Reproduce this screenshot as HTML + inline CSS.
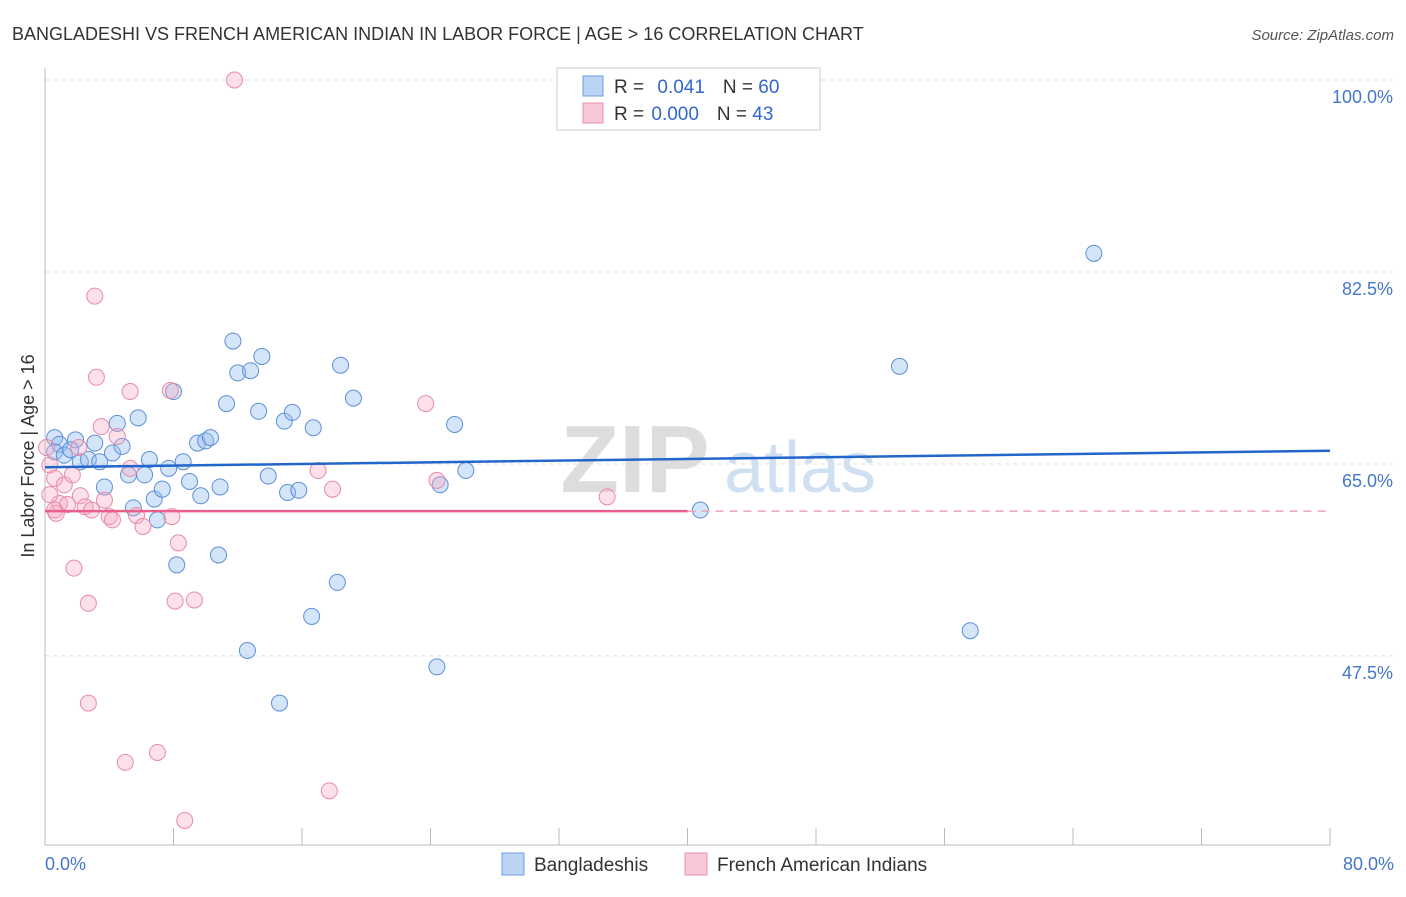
<!DOCTYPE html>
<html><head><meta charset="utf-8"><style>
body{margin:0;background:#fff;font-family:"Liberation Sans",sans-serif;}
svg text{font-family:"Liberation Sans",sans-serif;}
</style></head><body>
<svg id="chart" width="1406" height="892" xmlns="http://www.w3.org/2000/svg">
<text x="12" y="40" font-size="18" fill="#333">BANGLADESHI VS FRENCH AMERICAN INDIAN IN LABOR FORCE | AGE &gt; 16 CORRELATION CHART</text>
<text x="1394" y="40" font-size="15" fill="#555" font-style="italic" text-anchor="end">Source: ZipAtlas.com</text>
<text x="635" y="492" font-size="96" fill="#ddd" font-family="Liberation Serif" font-weight="bold" text-anchor="middle">ZIP</text>
<text x="800" y="492" font-size="72" fill="#cfe0f3" text-anchor="middle">atlas</text>
<g id="grid"></g><g id="axes"></g><g id="marks"></g>
<text transform="translate(34,456) rotate(-90)" font-size="18" fill="#333" text-anchor="middle">In Labor Force | Age &gt; 16</text>
<text x="45" y="870" font-size="18" fill="#4477cc">0.0%</text>
<text x="1394" y="870" font-size="18" fill="#4477cc" text-anchor="end">80.0%</text>
<g>
<rect x="557" y="68" width="263" height="62" fill="#fff" stroke="#ccc"/>
<rect x="583" y="76" width="20" height="20" fill="#bcd4f4" stroke="#6a9de0"/>
<rect x="583" y="103" width="20" height="20" fill="#f8c8d6" stroke="#e890aa"/>
<text x="614" y="93" font-size="19" fill="#333">R = <tspan fill="#3366cc" dx="8">0.041</tspan><tspan dx="18">N = </tspan><tspan fill="#3366cc">60</tspan></text>
<text x="614" y="120" font-size="19" fill="#333">R = <tspan fill="#3366cc" dx="2">0.000</tspan><tspan dx="18">N = </tspan><tspan fill="#3366cc">43</tspan></text>
</g>
<g>
<rect x="502" y="853" width="22" height="22" fill="#bcd4f4" stroke="#6a9de0"/>
<text x="534" y="871" font-size="19" fill="#333">Bangladeshis</text>
<rect x="685" y="853" width="22" height="22" fill="#f8c8d6" stroke="#e890aa"/>
<text x="717" y="871" font-size="19" fill="#333">French American Indians</text>
</g>
</svg>
<script>
const yTicks=[100,82.5,65,47.5];
const xTicks=[0,8,16,24,32,40,48,56,64,72,80];
const blueX=[0.6,0.9,0.6,1.2,1.9,1.6,2.2,2.7,3.1,3.4,3.7,4.2,4.5,4.8,5.2,5.5,5.8,6.2,6.5,6.8,7.0,7.3,7.7,8.0,8.2,8.6,9.0,9.5,9.7,10.0,10.3,10.8,10.9,11.3,11.7,12.0,12.6,12.8,13.3,13.5,13.9,14.6,14.9,15.1,15.4,15.8,16.6,16.7,18.2,18.4,19.2,24.4,24.6,25.5,26.2,40.8,53.2,57.6,65.3];
const blueY=[67.4,66.8,66.1,65.8,67.2,66.3,65.2,65.4,66.9,65.2,62.9,66.0,68.7,66.6,64.0,61.0,69.2,64.0,65.4,61.8,59.9,62.7,64.6,71.6,55.8,65.2,63.4,66.9,62.1,67.1,67.4,56.7,62.9,70.5,76.2,73.3,48.0,73.5,69.8,74.8,63.9,43.2,68.9,62.4,69.7,62.6,51.1,68.3,54.2,74.0,71.0,46.5,63.1,68.6,64.4,60.8,73.9,49.8,84.2];
const pinkX=[11.8,3.1,3.2,5.3,7.8,23.7,3.5,4.5,2.1,0.1,0.3,0.6,1.2,1.7,5.3,17.0,24.4,17.9,35.0,2.2,0.9,1.4,2.5,2.9,3.7,0.7,4.0,4.2,5.7,6.1,7.9,8.3,1.8,2.7,8.1,9.3,2.7,5.0,7.0,17.7,8.7,0.3,0.6];
const pinkY=[100,80.3,72.9,71.6,71.7,70.5,68.4,67.5,66.5,66.5,64.9,63.7,63.1,64.0,64.6,64.4,63.5,62.7,62.0,62.1,61.4,61.3,61.1,60.8,61.7,60.5,60.2,59.9,60.3,59.3,60.2,57.8,55.5,52.3,52.5,52.6,43.2,37.8,38.7,35.2,32.5,62.2,60.8];
const blueTrend=[64.7,66.2];
const pinkTrend=[60.7,60.7];
const pinkSolidEnd=40;
const X=v=>45+v*(1285/80);
const Y=v=>80+(100-v)*10.97;
const NS="http://www.w3.org/2000/svg";
function mk(t,a,p){const e=document.createElementNS(NS,t);for(const k in a)e.setAttribute(k,a[k]);p.appendChild(e);return e;}
const grid=document.getElementById('grid'),axes=document.getElementById('axes'),marks=document.getElementById('marks');
yTicks.forEach(t=>{
 const l=mk('line',{x1:45,x2:1393,y1:Y(t),y2:Y(t),stroke:'#ddd','stroke-dasharray':'4,4'},grid);
 
 
 const tx=mk('text',{x:1393,y:Y(t)+23,'font-size':18,fill:'#4477cc','text-anchor':'end'},axes);
 tx.textContent=t.toFixed(1)+'%';
 
 
});
mk('line',{x1:45,x2:45,y1:68,y2:845,stroke:'#bbb'},axes);
mk('line',{x1:45,x2:1330,y1:845,y2:845,stroke:'#bbb'},axes);
xTicks.forEach(t=>{
 const l=mk('line',{x1:X(t),x2:X(t),y1:828,y2:845,stroke:'#bbb'},axes);
 
 
});
blueX.forEach((v,i)=>{
 const c=mk('circle',{cx:X(v),cy:Y(blueY[i]),r:8,fill:'rgba(150,190,240,0.4)',stroke:'#5b8fd8','stroke-width':1},marks);
 
 
});
pinkX.forEach((v,i)=>{
 const c=mk('circle',{cx:X(v),cy:Y(pinkY[i]),r:8,fill:'rgba(245,170,195,0.35)',stroke:'#e88aa8','stroke-width':1},marks);
 
 
});
const bl=mk('line',{x1:X(0),x2:X(80),y1:Y(blueTrend[0]),y2:Y(blueTrend[1]),stroke:'#2266cc','stroke-width':2.5},marks);


const pl=mk('line',{x1:X(0),x2:X(pinkSolidEnd),y1:Y(pinkTrend[0]),y2:Y(pinkTrend[0]),stroke:'#e8608a','stroke-width':2.5},marks);


const pd=mk('line',{x1:X(pinkSolidEnd),x2:X(80),y1:Y(pinkTrend[0]),y2:Y(pinkTrend[1]),stroke:'#f0a0b8','stroke-width':1.5,'stroke-dasharray':'8,6'},marks);


</script>
</body></html>
